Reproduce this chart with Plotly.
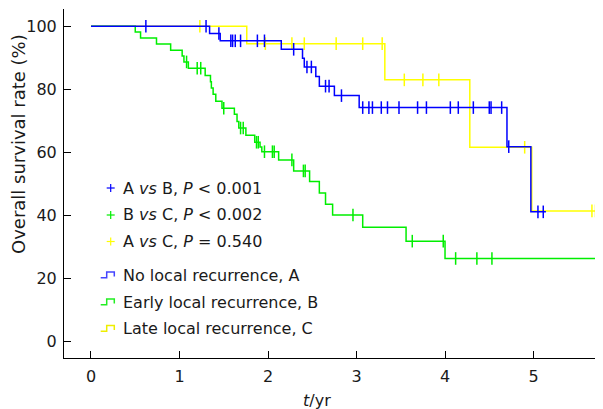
import numpy as np
import plotly.graph_objects as go

# ---------------- data ----------------
# Group A: No local recurrence
a_event_t = [1.34, 1.46, 2.15, 2.39, 2.41, 2.54, 2.58, 2.75, 3.03, 4.70, 4.97]
a_event_s = [97.7, 95.4, 92.7, 89.9, 87.1, 84.1, 81.0, 78.0, 74.2, 61.8, 41.1]
a_censor_t = [0.62, 1.30, 1.445, 1.58, 1.60, 1.63, 1.69, 1.88, 1.96, 2.29, 2.44, 2.49,
              2.65, 2.69, 2.83, 3.07, 3.14, 3.18, 3.28, 3.35, 3.48, 3.69, 3.79, 4.06,
              4.15, 4.32, 4.50, 4.52, 4.64, 4.72, 5.05, 5.11]
a_end = 5.14

# Group B: Early local recurrence
b_event_t = [0.50, 0.56, 0.74, 0.90, 1.03, 1.05, 1.10, 1.29, 1.35, 1.36, 1.38, 1.41,
             1.48, 1.62, 1.65, 1.67, 1.75, 1.85, 1.91, 1.93, 2.12, 2.29, 2.47, 2.58,
             2.65, 2.73, 3.07, 3.56, 4.00]
b_event_s = [98.2, 96.3, 94.4, 92.4, 90.6, 88.7, 86.7, 84.4, 82.4, 80.4, 78.4, 76.2,
             74.0, 72.1, 69.8, 67.7, 65.4, 63.2, 61.7, 60.2, 57.6, 54.1, 50.7, 47.1,
             43.5, 40.1, 36.2, 31.8, 26.3]
b_censor_t = [1.08, 1.20, 1.24, 1.50, 1.69, 1.72, 1.87, 1.89, 1.96, 2.05, 2.07, 2.27,
              2.40, 2.42, 2.96, 3.63, 3.98, 4.12, 4.36, 4.53]
b_end = 5.80

# Group C: Late local recurrence
c_event_t = [1.76, 3.32, 4.28, 4.98]
c_event_s = [94.5, 83.0, 61.6, 41.4]
c_censor_t = [1.23, 1.97, 2.27, 2.41, 2.77, 3.07, 3.29, 3.54, 3.75, 3.93, 4.90, 5.66, 5.70]
c_end = 5.75

x_ticks = [0, 1, 2, 3, 4, 5]
y_ticks = [0, 20, 40, 60, 80, 100]

stat_labels = ["A <i>vs</i> B, <i>P</i> &lt; 0.001",
               "B <i>vs</i> C, <i>P</i> &lt; 0.002",
               "A <i>vs</i> C, <i>P</i> = 0.540"]
group_labels = ["No local recurrence, A",
                "Early local recurrence, B",
                "Late local recurrence, C"]

BLUE = "#0000ff"
GREEN = "#00ee00"
YELLOW = "#ffff00"
TXT = "#1a1a1a"
FONT = "DejaVu Sans"

# ---------------- figure ----------------
# The page body has an 8px margin, so the figure is made 8px smaller and
# every page-pixel position is shifted by that offset.
OFF = 8
W, H = 603 - OFF, 409 - OFF
ML, MR, MT, MB = 64 - OFF, 0, 9 - OFF, 51
PW, PH = W - ML - MR, H - MT - MB


def px(x):
    return (x - OFF - ML) / PW


def py(y):
    return (H - MB - (y - OFF)) / PH


fig = go.Figure()

groups = [
    (c_event_t, c_event_s, c_censor_t, c_end, YELLOW),
    (b_event_t, b_event_s, b_censor_t, b_end, GREEN),
    (a_event_t, a_event_s, a_censor_t, a_end, BLUE),
]

for et, es, ct, end, col in groups:
    xs = [0.0] + list(et) + [end]
    ys = [100.0] + list(es) + [es[-1]]
    fig.add_trace(go.Scatter(x=xs, y=ys, mode="lines", line=dict(color=col, width=1.5, shape="hv"),
                             showlegend=False, hoverinfo="skip", cliponaxis=True))
    steps_t = np.array([0.0] + list(et))
    steps_s = np.array([100.0] + list(es))
    idx = np.searchsorted(steps_t, np.array(ct), side="right") - 1
    cy = steps_s[idx]
    fig.add_trace(go.Scatter(x=ct, y=cy, mode="markers",
                             marker=dict(symbol="line-ns", size=9, line=dict(color=col, width=1.5)),
                             showlegend=False, hoverinfo="skip"))

# ---------------- manual legend ----------------
shapes = []
annotations = []
stat_cols = [BLUE, GREEN, YELLOW]
stat_y = [188, 215, 241.5]
for lab, col, yy in zip(stat_labels, stat_cols, stat_y):
    cx = 110.7
    shapes.append(dict(type="line", xref="paper", yref="paper", x0=px(cx - 4), x1=px(cx + 4),
                       y0=py(yy), y1=py(yy), line=dict(color=col, width=1.2)))
    shapes.append(dict(type="line", xref="paper", yref="paper", x0=px(cx), x1=px(cx),
                       y0=py(yy - 4), y1=py(yy + 4), line=dict(color=col, width=1.2)))
    annotations.append(dict(text=lab, xref="paper", yref="paper", x=px(121), y=py(yy),
                            xanchor="left", yanchor="middle", showarrow=False,
                            font=dict(family=FONT, size=16, color=TXT)))

grp_cols = ["#4444ff", "#22ee22", "#eeee00"]
grp_y = [275, 302, 328.5]
for lab, col, yy in zip(group_labels, grp_cols, grp_y):
    x0, x1, x2 = 100.7, 106.7, 114.3
    yb, yt = yy + 2.8, yy - 3.0
    path = (f"M {px(x0)},{py(yb)} L {px(x1)},{py(yb)} L {px(x1)},{py(yt)} "
            f"L {px(x2)},{py(yt)} L {px(x2)},{py(yy + 1.5)}")
    shapes.append(dict(type="path", xref="paper", yref="paper", path=path,
                       line=dict(color=col, width=1.5)))
    annotations.append(dict(text=lab, xref="paper", yref="paper", x=px(121), y=py(yy),
                            xanchor="left", yanchor="middle", showarrow=False,
                            font=dict(family=FONT, size=16, color=TXT)))

# axis titles
annotations.append(dict(text="Overall survival rate (%)", xref="paper", yref="paper",
                        x=px(18), y=py(144), textangle=-90, xanchor="center", yanchor="middle",
                        showarrow=False, font=dict(family=FONT, size=18, color=TXT)))
annotations.append(dict(text="<i>t</i>/yr", xref="paper", yref="paper",
                        x=px(317), y=py(400), xanchor="center", yanchor="middle",
                        showarrow=False, font=dict(family=FONT, size=16, color=TXT)))

fig.update_layout(
    width=W, height=H,
    margin=dict(l=ML, r=MR, t=MT, b=MB),
    paper_bgcolor="white", plot_bgcolor="white",
    showlegend=False,
    shapes=shapes, annotations=annotations,
    font=dict(family=FONT, size=16, color=TXT),
)
fig.update_xaxes(range=[-0.305, 5.785], tickvals=x_ticks, ticktext=[str(v) for v in x_ticks],
                 showgrid=False, zeroline=False, showline=True, linecolor="black", linewidth=1,
                 ticks="inside", ticklen=7, tickcolor="black", tickwidth=1,
                 ticklabelstandoff=4, tickfont=dict(family=FONT, size=16, color=TXT))
fig.update_yaxes(range=[-5.3, 105.5], tickvals=y_ticks, ticktext=[str(v) for v in y_ticks],
                 showgrid=False, zeroline=False, showline=True, linecolor="black", linewidth=1,
                 ticks="inside", ticklen=7, tickcolor="black", tickwidth=1,
                 ticklabelstandoff=3, tickfont=dict(family=FONT, size=16, color=TXT))

fig.write_html("out.html")
